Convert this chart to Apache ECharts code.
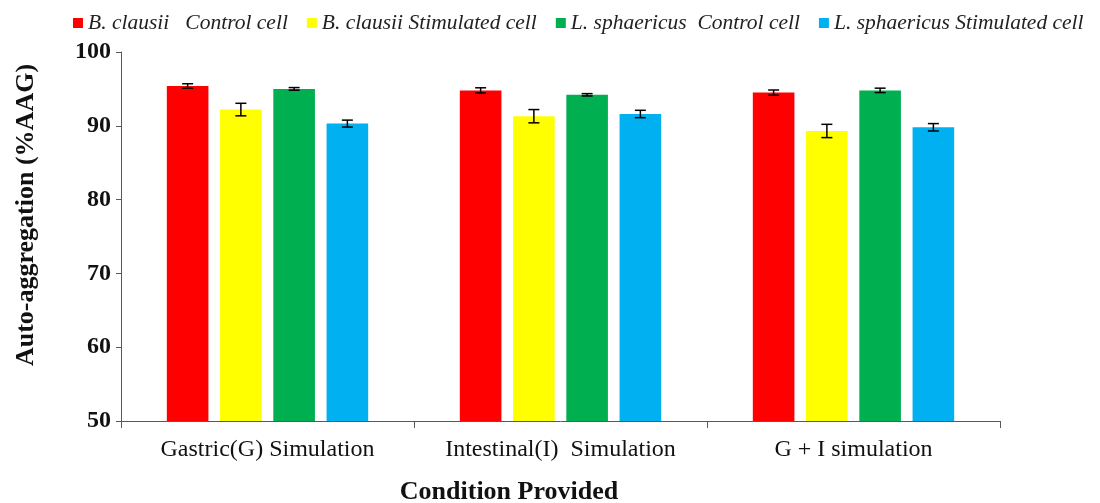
<!DOCTYPE html>
<html>
<head>
<meta charset="utf-8">
<script src="https://cdn.jsdelivr.net/npm/echarts@6/dist/echarts.min.js"></script>
<style>html,body{margin:0;padding:0;background:#fff}#c{width:1100px;height:503px}</style>
</head>
<body>
<div id="c"></div>
<script>
const categories = ['Gastric(G) Simulation', 'Intestinal(I)  Simulation', 'G + I simulation'];
const seriesNames = ['B. clausii   Control cell', 'B. clausii Stimulated cell', 'L. sphaericus  Control cell', 'L. sphaericus Stimulated cell'];
const bcControl = [95.4, 94.8, 94.5];
const bcStimulated = [92.2, 91.3, 89.3];
const lsControl = [95.0, 94.2, 94.8];
const lsStimulated = [90.3, 91.6, 89.8];
const bcControlErr = [0.3, 0.35, 0.35];
const bcStimulatedErr = [0.85, 0.9, 0.9];
const lsControlErr = [0.18, 0.16, 0.3];
const lsStimulatedErr = [0.47, 0.5, 0.5];
const yTicks = [50, 60, 70, 80, 90, 100];

const values = [bcControl, bcStimulated, lsControl, lsStimulated];
const errs = [bcControlErr, bcStimulatedErr, lsControlErr, lsStimulatedErr];
const colors = ['#FF0000', '#FFFF00', '#00B050', '#00B0F0'];
const BAR_W = 41.6;
const GAP_RATIO = 0.28;
const FONT = '"Liberation Serif", "Times New Roman", serif';

const chart = echarts.init(document.getElementById('c'));

const series = [];
values.forEach((vals, i) => {
  series.push({
    name: seriesNames[i],
    type: 'bar',
    data: vals,
    barWidth: BAR_W,
    barGap: (GAP_RATIO * 100) + '%',
    itemStyle: { color: colors[i] },
    z: 2
  });
});
values.forEach((vals, i) => {
  const offset = (i - 1.5) * (BAR_W * (1 + GAP_RATIO));
  series.push({
    type: 'custom',
    name: 'err' + i,
    data: vals.map((v, k) => [k, v, errs[i][k]]),
    z: 5,
    silent: true,
    renderItem: function (params, api) {
      const idx = api.value(0), v = api.value(1), e = api.value(2);
      const hi = api.coord([idx, v + e]);
      const lo = api.coord([idx, v - e]);
      const x = hi[0] + offset;
      const cap = 5.5;
      const st = { stroke: '#000', lineWidth: 1.5 };
      return {
        type: 'group',
        children: [
          { type: 'line', shape: { x1: x, y1: hi[1], x2: x, y2: lo[1] }, style: st },
          { type: 'line', shape: { x1: x - cap, y1: hi[1], x2: x + cap, y2: hi[1] }, style: st },
          { type: 'line', shape: { x1: x - cap, y1: lo[1], x2: x + cap, y2: lo[1] }, style: st }
        ]
      };
    }
  });
});

chart.setOption({
  animation: false,
  backgroundColor: '#fff',
  grid: { left: 121, right: 100, top: 52, bottom: 82, containLabel: false },
  legend: {
    data: seriesNames,
    top: 7,
    left: 68,
    itemWidth: 10,
    itemHeight: 10,
    itemGap: 19,
    icon: 'rect',
    textStyle: { fontFamily: FONT, fontStyle: 'italic', fontSize: 21.5, color: '#222' }
  },
  xAxis: {
    type: 'category',
    data: categories,
    axisLine: { lineStyle: { color: '#595959', width: 1 } },
    axisTick: { show: true, interval: 0, length: 7, lineStyle: { color: '#595959' } },
    axisLabel: { interval: 0, hideOverlap: false, fontFamily: FONT, fontSize: 24, color: '#111', margin: 17 }
  },
  yAxis: {
    type: 'value',
    min: yTicks[0],
    max: yTicks[yTicks.length - 1],
    interval: 10,
    splitLine: { show: false },
    axisLine: { show: true, lineStyle: { color: '#595959', width: 1 } },
    axisTick: { show: true, length: 5, lineStyle: { color: '#595959' } },
    axisLabel: { fontFamily: FONT, fontSize: 24, fontWeight: 'bold', color: '#111', margin: 10 }
  },
  graphic: [
    {
      type: 'text',
      x: 26, y: 215,
      rotation: Math.PI / 2,
      style: { text: 'Auto-aggregation (%AAG)', fontFamily: FONT, fontSize: 26, fontWeight: 'bold', fill: '#111', align: 'center', verticalAlign: 'middle' }
    },
    {
      type: 'text',
      x: 509, y: 492,
      style: { text: 'Condition Provided', fontFamily: FONT, fontSize: 26, fontWeight: 'bold', fill: '#111', align: 'center', verticalAlign: 'middle' }
    }
  ],
  series: series
});
</script>
</body>
</html>
